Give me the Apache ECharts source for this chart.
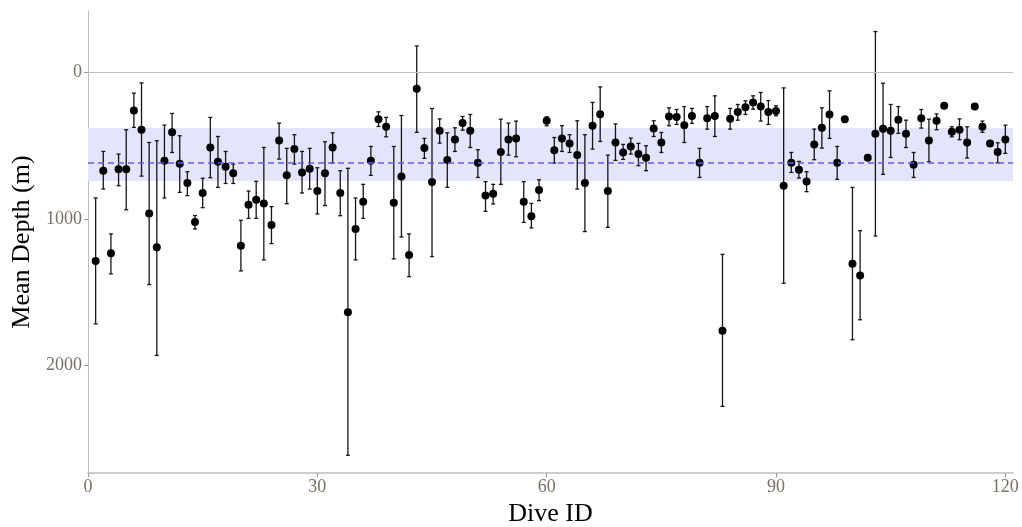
<!DOCTYPE html>
<html>
<head>
<meta charset="utf-8">
<title>Mean Depth by Dive</title>
<script src="https://cdn.jsdelivr.net/npm/echarts@6.0.0/dist/echarts.min.js"></script>
<style>
  html, body { margin: 0; padding: 0; background: #ffffff; }
  #chart { width: 1022px; height: 527px; }
</style>
</head>
<body>
<div id="chart"></div>
<script>
// Mean dive depth (m) per dive with its lower / upper range
const diveIds = Array.from({ length: 120 }, (_, i) => i + 1);

const meanDepth = [
  1286, 671, 1234, 662, 662, 261, 392, 962, 1193, 603,
  410, 624, 755, 1021, 823, 513, 610, 644, 689, 1182,
  903, 869, 894, 1041, 465, 703, 524, 683, 658, 810,
  689, 513, 823, 1635, 1068, 882, 603, 320, 372, 889,
  710, 1245, 113, 517, 748, 399, 599, 458, 347, 399,
  617, 841, 828, 544, 458, 451, 882, 982, 803, 331,
  531, 451, 485, 565, 755, 365, 286, 810, 479, 547,
  506, 558, 583, 383, 479, 302, 306, 361, 299, 617,
  313, 299, 1762, 318, 272, 238, 206, 234, 272, 265,
  773, 617, 665, 744, 492, 379, 288, 617, 320, 1306,
  1386, 583, 420, 386, 399, 324, 420, 631, 313, 465,
  331, 229, 406, 392, 479, 234, 372, 485, 544, 458
];

const lowerDepth = [
  857, 540, 1102, 558, 392, 143, 73, 479, 467, 361,
  281, 433, 678, 977, 723, 308, 438, 540, 626, 1009,
  810, 744, 513, 916, 347, 519, 426, 540, 519, 651,
  474, 413, 671, 655, 857, 764, 506, 270, 308, 506,
  295, 1102, -179, 451, 247, 318, 413, 379, 302, 288,
  528, 746, 764, 320, 347, 333, 746, 894, 733, 304,
  445, 365, 426, 331, 426, 206, 100, 565, 352, 492,
  449, 485, 501, 331, 411, 243, 254, 234, 247, 519,
  234, 161, 1241, 247, 220, 195, 161, 138, 193, 229,
  107, 547, 608, 678, 388, 243, 127, 506, 304, 785,
  1080, 570, -277, 75, 220, 234, 327, 547, 254, 320,
  284, 220, 372, 318, 372, 226, 333, 478, 481, 361
];

const upperDepth = [
  1715, 796, 1374, 773, 937, 376, 708, 1447, 1930, 857,
  547, 819, 841, 1068, 923, 719, 785, 758, 758, 1354,
  996, 996, 1279, 1168, 592, 896, 626, 823, 796, 966,
  909, 619, 978, 2610, 1279, 996, 703, 370, 440, 1272,
  1123, 1393, 410, 587, 1256, 483, 785, 540, 395, 513,
  717, 948, 898, 764, 565, 576, 1023, 1061, 875, 365,
  619, 540, 547, 796, 1086, 524, 472, 1057, 601, 594,
  558, 637, 671, 438, 547, 365, 356, 479, 349, 717,
  388, 438, 2277, 388, 327, 288, 252, 333, 356, 297,
  1438, 683, 721, 814, 596, 517, 451, 730, 342, 1823,
  1687, 598, 1116, 696, 581, 417, 513, 717, 381, 610,
  392, 240, 440, 460, 585, 242, 410, 492, 617, 553
];

// Reference band and overall mean
const bandLow = 380;
const bandHigh = 742;
const overallMean = 615;

const xTicks = [0, 30, 60, 90, 120];
const yTicks = [0, 1000, 2000];

const pointData = diveIds.map((id, i) => [id, meanDepth[i]]);
const barData = diveIds.map((id, i) => [id, lowerDepth[i], upperDepth[i]]);

const serif = 'Liberation Serif';
const tickTextColor = '#7a6f64';
const axisGray = '#bdbdbd';

const chart = echarts.init(document.getElementById('chart'), null, { renderer: 'canvas' });

chart.setOption({
  backgroundColor: '#ffffff',
  animation: false,
  grid: { left: 88, right: 9, top: 11, bottom: 54, containLabel: false, outerBoundsMode: 'none' },
  xAxis: {
    type: 'value',
    min: 0,
    max: 121,
    name: 'Dive ID',
    nameLocation: 'middle',
    nameGap: 27,
    nameTextStyle: { fontFamily: serif, fontSize: 26, color: '#000000' },
    axisLine: { onZero: false, lineStyle: { color: '#cccccc', width: 2 } },
    axisTick: { show: true, length: 4, customValues: xTicks, lineStyle: { color: '#9a9a9a', width: 1 } },
    axisLabel: {
      customValues: xTicks, margin: 5, fontFamily: serif, fontSize: 18, color: tickTextColor,
      formatter: v => String(v)
    },
    splitLine: { show: false }
  },
  yAxis: {
    type: 'value',
    inverse: true,
    min: -417,
    max: 2731,
    name: 'Mean Depth (m)',
    nameLocation: 'middle',
    nameRotate: 90,
    nameGap: 52,
    nameTextStyle: { fontFamily: serif, fontSize: 26, color: '#000000' },
    axisLine: { show: true, onZero: false, lineStyle: { color: axisGray, width: 1 } },
    axisTick: { show: true, length: 4, customValues: yTicks, lineStyle: { color: '#9a9a9a', width: 1 } },
    axisLabel: {
      customValues: yTicks, margin: 6, fontFamily: serif, fontSize: 18, color: tickTextColor,
      formatter: v => String(v)
    },
    splitLine: { show: false }
  },
  series: [
    {
      // shaded band, mean line and zero reference
      type: 'line',
      data: [],
      silent: true,
      markArea: {
        silent: true,
        itemStyle: { color: '#e4e4fc' },
        data: [[{ yAxis: bandLow }, { yAxis: bandHigh }]]
      },
      markLine: {
        silent: true,
        symbol: 'none',
        label: { show: false },
        data: [
          { yAxis: 0, lineStyle: { color: '#bcbcbc', width: 1, type: 'solid' } },
          { yAxis: overallMean, lineStyle: { color: '#5f5ff0', width: 1.5, type: [6, 4] } }
        ]
      },
      z: 1
    },
    {
      // vertical error bars with short caps
      type: 'custom',
      data: barData,
      z: 3,
      renderItem: function (params, api) {
        const x = api.value(0);
        const top = api.coord([x, api.value(1)]);
        const bottom = api.coord([x, api.value(2)]);
        const cap = 2;
        const style = { stroke: '#151515', lineWidth: 1.3 };
        return {
          type: 'group',
          children: [
            { type: 'line', shape: { x1: top[0], y1: top[1], x2: bottom[0], y2: bottom[1] }, style: style },
            { type: 'line', shape: { x1: top[0] - cap, y1: top[1], x2: top[0] + cap, y2: top[1] }, style: style },
            { type: 'line', shape: { x1: bottom[0] - cap, y1: bottom[1], x2: bottom[0] + cap, y2: bottom[1] }, style: style }
          ]
        };
      }
    },
    {
      type: 'scatter',
      data: pointData,
      symbol: 'circle',
      symbolSize: 8,
      itemStyle: { color: '#000000', opacity: 1 },
      z: 4
    }
  ]
});
</script>
</body>
</html>
